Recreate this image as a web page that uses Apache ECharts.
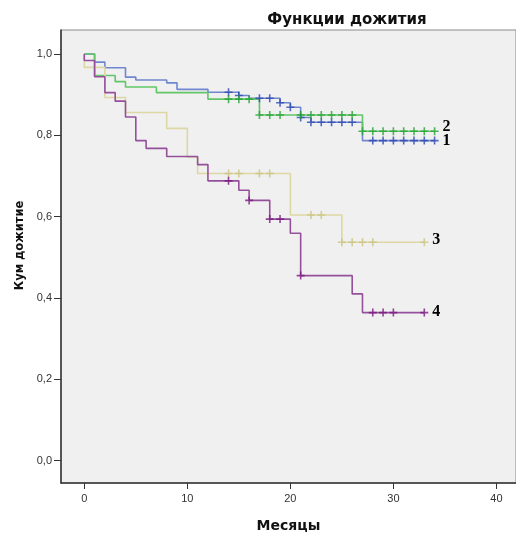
<!DOCTYPE html>
<html>
<head>
<meta charset="utf-8">
<title>Функции дожития</title>
<script src="https://cdn.jsdelivr.net/npm/echarts@6/dist/echarts.min.js"></script>
<style>
html, body { margin: 0; padding: 0; background: #fff; }
#main { width: 516px; height: 538px; }
</style>
</head>
<body>
<div id="main"></div>
<script type="text/javascript">
// группы 1..4: моменты событий (мес) и кумулятивное дожитие после них
var names = ['1', '2', '3', '4'];

var times1 = [0, 1, 2, 4, 5, 8, 9, 12, 15, 16, 19, 20, 21, 22, 27];
var surv1 = [1, 0.98, 0.966, 0.943, 0.936, 0.929, 0.913, 0.906, 0.898, 0.891, 0.880, 0.869, 0.844, 0.832, 0.787];
var cens1 = [14, 15, 17, 18, 19, 20, 21, 22, 23, 24, 25, 26, 28, 29, 30, 31, 32, 33, 34];

var times2 = [0, 1, 3, 4, 7, 12, 17, 27];
var surv2 = [1, 0.947, 0.932, 0.919, 0.905, 0.889, 0.850, 0.810];
var cens2 = [14, 15, 16, 17, 18, 19, 21, 22, 23, 24, 25, 26, 27, 28, 29, 30, 31, 32, 33, 34];

var times3 = [0, 0, 2, 4, 8, 10, 11, 20, 25];
var surv3 = [1, 0.967, 0.893, 0.856, 0.817, 0.746, 0.706, 0.604, 0.537];
var cens3 = [14, 15, 17, 18, 22, 23, 25, 26, 27, 28, 33];

var times4 = [0, 0, 1, 2, 3, 4, 5, 6, 8, 11, 12, 15, 16, 18, 20, 21, 26, 27];
var surv4 = [1, 0.984, 0.944, 0.905, 0.884, 0.845, 0.787, 0.768, 0.748, 0.728, 0.688, 0.665, 0.640, 0.594, 0.559, 0.455, 0.410, 0.364];
var cens4 = [14, 16, 18, 19, 21, 28, 29, 30, 33];

var lastTime = [34, 34, 33, 33];

var xTicks = [0, 10, 20, 30, 40];
var yTicks = [0, 0.2, 0.4, 0.6, 0.8, 1.0];

var lineColors = ['#7086cf', '#62c667', '#dcd7a3', '#95509b'];
var markColors = ['#2d48b0', '#25a335', '#cbc37f', '#7a1a80'];
var labelOffsets = [[0, 0], [0, -4], [0, -2], [0, -1]];

var allTimes = [times1, times2, times3, times4];
var allSurv = [surv1, surv2, surv3, surv4];
var allCens = [cens1, cens2, cens3, cens4];

// значение ступенчатой функции в момент t
function survAt(ts, vs, t) {
    var v = vs[0];
    for (var i = 0; i < ts.length; i++) {
        if (ts[i] <= t) v = vs[i];
    }
    return v;
}

var plusSymbol = 'path://M4,0h2v4h4v2h-4v4h-2v-4h-4v-2h4z';
var series = [];

for (var g = 0; g < 4; g++) {
    var ts = allTimes[g], vs = allSurv[g];
    var pts = [];
    for (var i = 0; i < ts.length; i++) pts.push([ts[i], vs[i]]);
    pts.push([lastTime[g], vs[vs.length - 1]]);
    series.push({
        name: names[g],
        type: 'line',
        step: 'end',
        data: pts,
        showSymbol: false,
        silent: true,
        lineStyle: { color: lineColors[g], width: 1.6 },
        endLabel: {
            show: true,
            formatter: names[g],
            distance: 8,
            offset: labelOffsets[g],
            fontFamily: 'Liberation Serif',
            fontWeight: 'bold',
            fontSize: 16,
            color: '#000'
        },
        z: 2
    });
    var cpts = allCens[g].map(function (t) { return [t, survAt(ts, vs, t)]; });
    series.push({
        type: 'scatter',
        data: cpts,
        symbol: plusSymbol,
        symbolSize: 8,
        silent: true,
        itemStyle: { color: markColors[g] },
        z: 3
    });
}

var chart = echarts.init(document.getElementById('main'));
chart.setOption({
    animation: false,
    backgroundColor: '#fff',
    textStyle: { fontFamily: 'Liberation Sans' },
    title: {
        text: 'Функции дожития',
        left: 342,
        top: 8,
        textAlign: 'center',
        textStyle: { fontSize: 15, fontWeight: 'bold', color: '#111', fontFamily: 'DejaVu Sans' }
    },
    grid: {
        left: 61, top: 30, right: 0, bottom: 51,
        show: true,
        backgroundColor: '#f0f0f0',
        borderColor: '#8a8a8a',
        borderWidth: 1
    },
    xAxis: {
        type: 'value',
        min: -2.26,
        max: 41.9,
        name: 'Месяцы',
        nameLocation: 'middle',
        nameGap: 36,
        nameTextStyle: { fontSize: 14, fontWeight: 'bold', color: '#111', fontFamily: 'DejaVu Sans' },
        axisLine: { onZero: false, lineStyle: { color: '#333', width: 1.5 } },
        axisTick: { show: true, customValues: xTicks, length: 6, lineStyle: { color: '#333' } },
        axisLabel: { customValues: xTicks, fontSize: 11, color: '#333', margin: 10 },
        splitLine: { show: false }
    },
    yAxis: {
        type: 'value',
        min: -0.055,
        max: 1.059,
        name: 'Кум дожитие',
        nameLocation: 'middle',
        nameGap: 35,
        nameTextStyle: { fontSize: 11.5, fontWeight: 'bold', color: '#111', fontFamily: 'DejaVu Sans', padding: [0, 0, 0, 22] },
        axisLine: { show: true, onZero: false, lineStyle: { color: '#333', width: 1.5 } },
        axisTick: { show: true, customValues: yTicks, length: 7, lineStyle: { color: '#333' } },
        axisLabel: {
            customValues: yTicks,
            fontSize: 11,
            color: '#333',
            margin: 9,
            formatter: function (v) { return v.toFixed(1).replace('.', ','); }
        },
        splitLine: { show: false }
    },
    series: series
});
</script>
</body>
</html>
